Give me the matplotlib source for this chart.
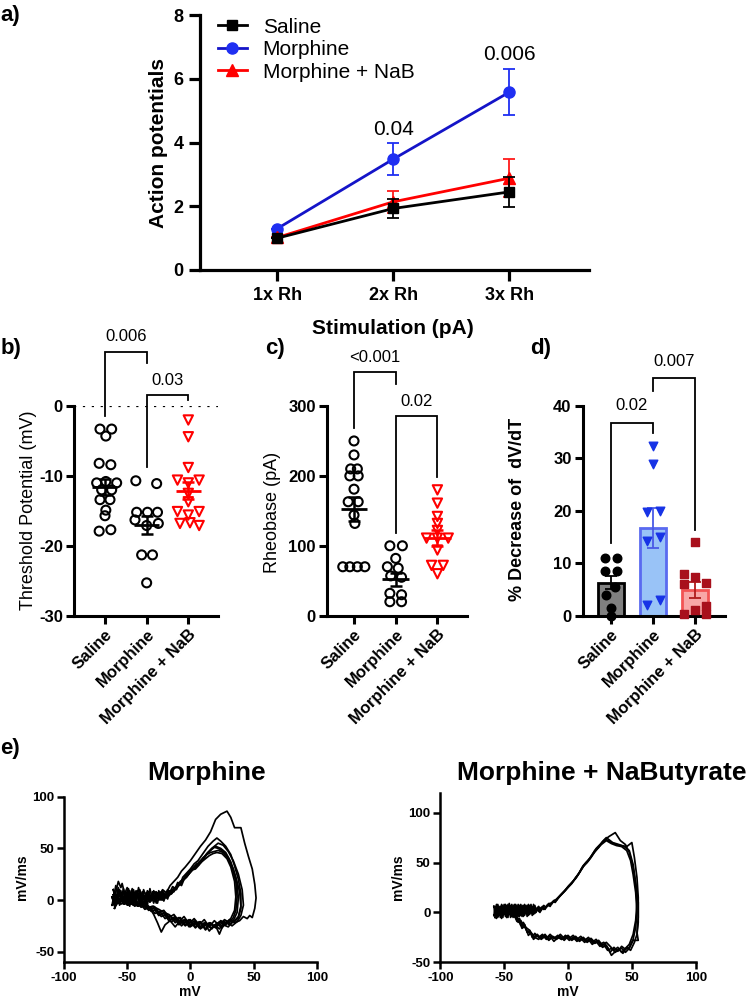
import matplotlib
matplotlib.use('Agg')
import matplotlib.pyplot as plt
import numpy as np
from matplotlib.lines import Line2D

plt.rcParams['font.family'] = ['Liberation Sans', 'DejaVu Sans']
plt.rcParams['axes.unicode_minus'] = False

# ---------------- data ----------------
groups = ['Saline', 'Morphine', 'Morphine + NaB']

# panel a
stim_labels = ['1x Rh', '2x Rh', '3x Rh']
ap_saline = [1.0, 1.93, 2.45]
ap_saline_sem = [0.0, 0.30, 0.46]
ap_morphine = [1.3, 3.48, 5.58]
ap_morphine_sem = [0.0, 0.49, 0.73]
ap_nab = [1.02, 2.14, 2.88]
ap_nab_sem = [0.0, 0.35, 0.60]
ap_pvals = ['0.04', '0.006']
ap_pval_y = [4.42, 6.76]

# panel b: threshold potential (mV)
thr_saline = [-3.3, -3.3, -4.3, -8.2, -8.4, -11.0, -10.8, -11.0, -12.0, -12.0,
              -13.4, -13.4, -14.9, -15.7, -17.9, -17.7]
thr_morphine = [-10.7, -11.1, -15.2, -15.2, -15.2, -16.3, -16.8, -17.1, -21.3, -21.3, -25.3]
thr_nab = [-2.0, -4.4, -8.8, -10.6, -10.6, -11.0, -12.5, -13.7, -15.1, -15.1,
           -15.6, -16.8, -17.1, -16.7]
thr_mean = [-11.6, -17.05, -12.1]
thr_sem = [1.2, 1.25, 1.2]

# panel c: rheobase (pA)
rheo_saline = [250, 230, 210, 210, 200, 200, 181, 163, 163, 144, 132, 70, 70, 70, 70]
rheo_morphine = [100, 100, 82, 70, 68, 57, 55, 32, 30, 20, 20]
rheo_nab = [180, 161, 142, 132, 122, 111, 111, 111, 94, 72, 72, 60]
rheo_mean = [153, 52, 111]
rheo_sem = [17, 9, 11.5]

# panel d: % decrease of dV/dT
dvdt_saline = [11.0, 11.0, 8.6, 8.6, 5.5, 4.0, 1.5, 0.0]
dvdt_morphine = [32.4, 28.9, 19.8, 20.0, 14.3, 15.1, 2.0, 2.9]
dvdt_nab = [14.1, 8.0, 7.3, 6.2, 6.0, 1.8, 1.1, 0.3, 0.3]
dvdt_mean = [6.3, 16.7, 4.95]
dvdt_sem = [1.3, 3.8, 1.55]

# panel e: phase plots (mV, mV/ms)
morph_trace_1 = [(-61,-2),(-59,8),(-57,18),(-55,12),(-54,16),(-52,6),(-50,12),(-48,3),(-46,11),(-44,2),(-42,9),(-40,0),(-38,8),(-36,1),(-34,9),(-31,2),(-28,8),(-25,3),(-22,10),(-19,7),(-16,14),(-13,18),(-10,22),(-7,28),(-4,32),(0,38),(4,45),(8,52),(12,58),(16,66),(20,78),(24,83),(29,86),(32,80),(35,70),(40,70),(43,55),(46,42),(49,30),(51,15),(52,2),(51,-8),(49,-17),(47,-15),(45,-18),(42,-16),(39,-20),(35,-22),(31,-20),(27,-24),(23,-21),(19,-26),(15,-22),(11,-25),(7,-21),(3,-24),(-1,-19),(-5,-22),(-9,-17),(-13,-19),(-17,-14),(-21,-12),(-25,-9),(-30,-6),(-35,-8),(-40,-3),(-45,-5),(-50,-1),(-55,-4),(-59,0),(-61,-2)]
morph_trace_2 = [(-62,3),(-60,-6),(-58,5),(-56,-3),(-54,7),(-52,-2),(-50,9),(-48,0),(-46,6),(-44,-3),(-42,8),(-40,-1),(-38,7),(-36,0),(-34,6),(-32,-2),(-30,8),(-28,1),(-26,7),(-24,2),(-22,9),(-20,4),(-18,10),(-16,8),(-14,13),(-12,11),(-10,17),(-8,15),(-6,22),(-3,26),(0,30),(3,35),(6,38),(10,45),(14,52),(18,57),(21,60),(24,57),(28,52),(32,44),(35,33),(38,20),(40,6),(40,-8),(38,-17),(35,-21),(31,-19),(28,-24),(24,-21),(20,-27),(16,-22),(12,-28),(8,-21),(4,-26),(0,-19),(-4,-24),(-8,-17),(-12,-22),(-16,-15),(-20,-18),(-24,-11),(-28,-13),(-32,-7),(-36,-9),(-40,-3),(-44,-6),(-48,-1),(-52,-4),(-56,1),(-60,-3),(-62,3)]
morph_trace_3 = [(-61,5),(-59,-4),(-57,9),(-55,-1),(-53,11),(-51,2),(-49,8),(-47,-2),(-45,10),(-43,1),(-41,6),(-39,-3),(-37,10),(-35,3),(-33,7),(-31,-1),(-29,9),(-27,2),(-25,6),(-23,0),(-21,7),(-19,3),(-17,9),(-15,6),(-13,12),(-11,10),(-9,16),(-7,14),(-5,20),(-2,24),(1,30),(4,32),(7,37),(10,40),(13,45),(16,48),(19,51),(22,50),(26,47),(30,41),(33,32),(36,18),(37,3),(36,-10),(34,-17),(31,-22),(27,-19),(23,-25),(19,-20),(15,-26),(11,-19),(7,-24),(3,-18),(-1,-23),(-5,-16),(-9,-21),(-13,-14),(-17,-17),(-21,-10),(-25,-12),(-29,-6),(-33,-8),(-37,-2),(-41,-5),(-45,0),(-49,-3),(-53,2),(-57,-2),(-61,5)]
morph_trace_4 = [(-60,-8),(-58,4),(-56,-5),(-54,6),(-52,-4),(-50,5),(-48,-6),(-46,8),(-44,-2),(-42,5),(-40,-4),(-38,6),(-36,-3),(-34,4),(-32,-2),(-30,6),(-28,-1),(-26,5),(-24,0),(-22,6),(-20,2),(-18,8),(-15,6),(-12,10),(-9,14),(-6,19),(-3,22),(0,27),(3,31),(6,34),(9,37),(12,40),(15,43),(18,45),(21,46),(25,45),(29,40),(32,32),(35,18),(36,3),(35,-10),(32,-18),(28,-22),(24,-20),(20,-26),(16,-23),(12,-29),(8,-22),(4,-27),(0,-21),(-4,-25),(-8,-20),(-12,-26),(-16,-20),(-20,-24),(-23,-31),(-26,-22),(-29,-14),(-33,-6),(-37,-2),(-42,-4),(-47,0),(-52,-3),(-56,1),(-60,-8)]
morph_trace_5 = [(-61,10),(-59,0),(-57,12),(-55,2),(-53,8),(-51,-3),(-49,11),(-47,1),(-45,7),(-43,-2),(-41,12),(-39,2),(-37,5),(-35,-4),(-33,8),(-31,0),(-29,5),(-27,-3),(-25,9),(-23,1),(-21,5),(-19,2),(-17,7),(-14,10),(-11,13),(-8,18),(-5,21),(-2,25),(1,29),(4,30),(7,34),(10,39),(14,46),(18,51),(22,55),(26,53),(30,47),(34,38),(38,25),(41,10),(42,-5),(40,-15),(37,-21),(33,-25),(29,-21),(25,-27),(21,-22),(17,-28),(13,-23),(9,-27),(5,-22),(1,-25),(-3,-20),(-7,-25),(-11,-18),(-15,-21),(-19,-14),(-23,-16),(-27,-9),(-31,-11),(-35,-5),(-39,-7),(-43,-1),(-47,-4),(-51,1),(-55,-2),(-59,3),(-61,10)]
morph_trace_6 = [(-62,-5),(-60,7),(-58,-2),(-56,10),(-54,-1),(-52,4),(-50,-5),(-48,9),(-46,-1),(-44,4),(-42,-6),(-40,10),(-38,0),(-36,4),(-34,-5),(-32,11),(-30,0),(-28,4),(-26,-3),(-24,8),(-22,0),(-20,5),(-18,1),(-16,9),(-13,8),(-10,15),(-7,17),(-4,23),(-1,27),(2,31),(5,35),(8,36),(11,41),(14,46),(17,50),(20,52),(24,50),(28,46),(32,37),(36,22),(39,8),(40,-6),(38,-16),(35,-20),(31,-24),(27,-21),(23,-28),(19,-24),(15,-30),(11,-22),(7,-27),(3,-20),(-1,-26),(-5,-19),(-9,-24),(-13,-17),(-17,-20),(-21,-13),(-25,-15),(-29,-8),(-33,-10),(-37,-4),(-41,-6),(-45,-1),(-49,-5),(-53,2),(-57,-3),(-62,-5)]
morph_trace_7 = [(-61,0),(-59,14),(-57,3),(-55,9),(-53,-4),(-51,7),(-49,-1),(-47,5),(-45,-5),(-43,9),(-41,0),(-39,4),(-37,-4),(-35,7),(-33,-1),(-31,5),(-29,-3),(-27,8),(-25,0),(-23,6),(-21,-1),(-19,6),(-17,4),(-14,8),(-11,12),(-8,16),(-5,20),(-2,24),(1,28),(4,33),(7,36),(10,41),(13,44),(16,46),(19,47),(22,48),(26,46),(30,40),(34,30),(37,16),(38,2),(37,-12),(34,-20),(30,-26),(26,-24),(23,-33),(20,-25),(16,-27),(12,-22),(8,-28),(4,-21),(0,-26),(-4,-19),(-8,-23),(-12,-16),(-16,-19),(-20,-12),(-24,-14),(-28,-7),(-32,-9),(-36,-3),(-40,-5),(-44,0),(-48,-4),(-52,3),(-56,-1),(-61,0)]

nab_trace_1 = [(-57,-5),(-56,7),(-55,-4),(-54,6),(-53,-5),(-52,8),(-51,-3),(-50,5),(-49,-4),(-48,7),(-47,-3),(-46,6),(-45,-5),(-44,8),(-43,-2),(-42,6),(-41,-4),(-40,7),(-39,-2),(-38,5),(-37,-3),(-36,7),(-35,-2),(-34,6),(-33,-1),(-32,7),(-31,-2),(-30,5),(-29,0),(-28,6),(-27,-1),(-26,7),(-25,0),(-24,5),(-22,2),(-20,6),(-18,3),(-16,8),(-14,6),(-12,11),(-10,10),(-8,14),(-5,18),(-2,22),(1,27),(4,31),(7,36),(10,42),(13,48),(16,52),(19,58),(22,64),(25,68),(28,72),(32,76),(37,80),(41,72),(45,68),(48,60),(51,45),(53,28),(54,10),(53,-8),(51,-22),(48,-32),(45,-36),(42,-40),(39,-35),(36,-38),(33,-34),(30,-30),(27,-33),(24,-28),(21,-30),(18,-26),(15,-29),(12,-25),(9,-28),(6,-24),(3,-27),(0,-23),(-3,-26),(-6,-22),(-9,-26),(-12,-24),(-15,-28),(-18,-24),(-21,-27),(-24,-22),(-27,-25),(-30,-18),(-33,-15),(-35,-10),(-37,-13),(-39,-6),(-42,-3),(-46,-1),(-50,0),(-57,-5)]
nab_trace_2 = [(-58,6),(-57,-4),(-56,8),(-55,-5),(-54,5),(-53,-3),(-52,7),(-51,-5),(-50,8),(-49,-2),(-48,6),(-47,-5),(-46,9),(-45,-3),(-44,5),(-43,-5),(-42,8),(-41,-2),(-40,6),(-39,-4),(-38,7),(-37,-2),(-36,5),(-35,-4),(-34,8),(-33,-1),(-32,5),(-31,-3),(-30,7),(-29,-1),(-28,5),(-27,-2),(-26,6),(-25,1),(-23,6),(-21,2),(-19,7),(-17,5),(-15,9),(-13,8),(-11,12),(-9,13),(-6,17),(-3,21),(0,26),(3,30),(6,34),(9,40),(12,47),(15,51),(18,56),(21,62),(24,66),(27,70),(30,73),(34,70),(38,68),(42,67),(46,66),(50,70),(52,55),(54,35),(55,15),(55,-5),(54,-20),(55,-28),(51,-28),(48,-36),(45,-40),(42,-36),(38,-38),(34,-43),(31,-35),(28,-30),(25,-32),(22,-27),(19,-30),(16,-25),(13,-28),(10,-24),(7,-27),(4,-23),(1,-26),(-2,-23),(-5,-27),(-8,-23),(-11,-26),(-14,-22),(-17,-26),(-20,-23),(-23,-27),(-26,-25),(-29,-20),(-31,-23),(-33,-16),(-35,-13),(-37,-8),(-39,-10),(-41,-5),(-44,-2),(-48,0),(-58,6)]
nab_trace_3 = [(-58,-3),(-57,5),(-56,-6),(-55,8),(-54,-2),(-53,5),(-52,-6),(-51,6),(-50,-2),(-49,8),(-48,-5),(-47,5),(-46,-2),(-45,7),(-44,-4),(-43,6),(-42,-1),(-41,8),(-40,-3),(-39,5),(-38,-4),(-37,8),(-36,-1),(-35,5),(-34,-3),(-33,7),(-32,-1),(-31,6),(-30,-2),(-29,8),(-28,0),(-27,5),(-26,-1),(-24,4),(-22,0),(-20,5),(-18,4),(-16,7),(-14,9),(-12,10),(-10,12),(-7,16),(-4,20),(-1,24),(2,28),(5,33),(8,38),(11,45),(14,50),(17,54),(20,59),(23,64),(26,68),(30,72),(34,69),(38,67),(42,66),(46,62),(49,52),(51,38),(53,20),(54,0),(53,-15),(51,-27),(48,-35),(45,-37),(42,-34),(39,-39),(36,-35),(33,-40),(30,-33),(27,-35),(24,-29),(21,-31),(18,-27),(15,-30),(12,-26),(9,-29),(6,-25),(3,-28),(0,-24),(-3,-28),(-6,-24),(-9,-27),(-12,-25),(-15,-27),(-18,-22),(-21,-26),(-24,-23),(-27,-27),(-29,-21),(-32,-19),(-34,-14),(-36,-16),(-38,-9),(-40,-6),(-43,-3),(-47,1),(-58,-3)]
nab_trace_4 = [(-57,2),(-56,-5),(-55,7),(-54,-2),(-53,6),(-52,-4),(-51,7),(-50,-2),(-49,5),(-48,-5),(-47,8),(-46,0),(-45,5),(-44,-4),(-43,7),(-42,-3),(-41,5),(-40,-5),(-39,8),(-38,0),(-37,5),(-36,-4),(-35,7),(-34,-2),(-33,5),(-32,-4),(-31,8),(-30,0),(-29,5),(-28,-3),(-27,8),(-26,0),(-25,4),(-23,1),(-21,5),(-19,3),(-17,6),(-15,7),(-13,9),(-11,11),(-9,12),(-6,17),(-3,21),(0,25),(3,29),(6,35),(9,40),(12,46),(15,50),(18,55),(21,61),(24,65),(27,71),(30,75),(35,70),(40,68),(44,66),(48,62),(51,48),(53,30),(55,10),(55,-10),(54,-22),(52,-30),(49,-38),(46,-35),(43,-41),(40,-37),(37,-40),(34,-36),(31,-38),(28,-32),(25,-34),(22,-29),(19,-32),(16,-27),(13,-30),(10,-26),(7,-29),(4,-25),(1,-28),(-2,-24),(-5,-27),(-8,-25),(-11,-29),(-14,-24),(-17,-27),(-20,-22),(-23,-25),(-26,-21),(-28,-25),(-30,-18),(-32,-20),(-34,-12),(-36,-14),(-38,-6),(-40,-9),(-42,-3),(-45,-1),(-49,0),(-57,2)]

morph_traces = [morph_trace_1, morph_trace_2, morph_trace_3, morph_trace_4,
                morph_trace_5, morph_trace_6, morph_trace_7]
nab_traces = [nab_trace_1, nab_trace_2, nab_trace_3, nab_trace_4]

# ---------------- layout helpers ----------------
W, H = 751, 1007
fig = plt.figure(figsize=(W / 100, H / 100), dpi=100)


def add_ax(l, t, r, b):
    return fig.add_axes([l / W, 1 - b / H, (r - l) / W, (b - t) / H])


def ftext(x, y, s, **kw):
    fig.text(x / W, 1 - y / H, s, **kw)


def style(ax, lw=2.0, tl=6, fs=12):
    for s in ['top', 'right']:
        ax.spines[s].set_visible(False)
    for s in ['left', 'bottom']:
        ax.spines[s].set_linewidth(lw)
    ax.tick_params(width=lw, length=tl, labelsize=fs, pad=2)
    plt.setp(ax.get_xticklabels(), fontweight='bold')
    plt.setp(ax.get_yticklabels(), fontweight='bold')


def bracket(ax, x1, x2, y1, y2, top, label, ly, fs=12):
    ax.plot([x1, x1, x2, x2], [y1, top, top, y2], color='black', lw=1.3,
            clip_on=False, solid_joinstyle='miter')
    ax.text((x1 + x2) / 2, ly, label, ha='center', va='center', fontsize=fs,
            clip_on=False)


# ---------------- panel a ----------------
axa = add_ax(200, 15, 589, 270)
xs = np.arange(len(stim_labels))
blue_line, blue_mk = '#1414c8', '#1f2ff2'
axa.errorbar(xs, ap_morphine, yerr=ap_morphine_sem, color=blue_line, lw=2,
             marker='o', ms=8, mfc=blue_mk, mec=blue_mk, ecolor=blue_mk,
             elinewidth=1.3, capsize=4, capthick=1.3, zorder=3)
axa.errorbar(xs, ap_nab, yerr=ap_nab_sem, color='#ff0000', lw=2,
             marker='^', ms=8, ecolor='#ff1a1a', elinewidth=1.3, capsize=4,
             capthick=1.3, zorder=4)
axa.errorbar(xs, ap_saline, yerr=ap_saline_sem, color='black', lw=2,
             marker='s', ms=7.5, elinewidth=1.3, capsize=4, capthick=1.3, zorder=5)
axa.set_xlim(-0.667, 2.687)
axa.set_ylim(0, 8)
axa.set_yticks([0, 2, 4, 6, 8])
axa.set_xticks(xs)
axa.set_xticklabels(stim_labels)
style(axa, lw=2.3, tl=8, fs=13)
axa.tick_params(pad=4)
for i, (p, y) in enumerate(zip(ap_pvals, ap_pval_y)):
    axa.text(i + 1, y, p, ha='center', va='center', fontsize=15)
handles = [Line2D([], [], color='black', marker='s', ms=7.5, lw=2),
           Line2D([], [], color=blue_line, marker='o', ms=8, mfc=blue_mk, mec=blue_mk, lw=2),
           Line2D([], [], color='#ff0000', marker='^', ms=8, lw=2)]
axa.legend(handles, ['Saline', 'Morphine', 'Morphine + NaB'], loc='upper left',
           bbox_to_anchor=(0.046, 0.99), frameon=False, fontsize=15,
           handlelength=1.4, handletextpad=0.75, labelspacing=0.17,
           borderaxespad=0, borderpad=0)
ftext(158, 143.5, 'Action potentials', rotation=90, ha='center', va='center',
      fontsize=15, fontweight='bold')
ftext(393, 328, 'Stimulation (pA)', ha='center', va='center', fontsize=15,
      fontweight='bold')

# ---------------- panel b ----------------
axb = add_ax(74, 406, 218.3, 615.7)
b_off_s = [-0.12, 0.16, 0.02, -0.14, 0.14, -0.2, 0.02, 0.28, -0.08, 0.16, -0.12, 0.12, 0.02, 0.0, -0.14, 0.14]
b_off_m = [-0.26, 0.24, -0.24, 0.02, 0.26, -0.28, 0.28, 0.0, -0.12, 0.14, 0.0]
b_off_n = [0.0, 0.0, 0.0, -0.26, 0.26, 0.0, 0.0, 0.0, -0.26, 0.26, 0.0, -0.2, 0.26, 0.04]
axb.axhline(0, color='black', ls=(0, (1, 3)), lw=1.6)
axb.scatter(np.array(b_off_s) + 0, thr_saline, s=42, facecolors='none',
            edgecolors='black', linewidths=1.5, zorder=3, clip_on=False)
axb.scatter(np.array(b_off_m) + 1, thr_morphine, s=42, facecolors='none',
            edgecolors='black', linewidths=1.5, zorder=3, clip_on=False)
axb.scatter(np.array(b_off_n) + 2, thr_nab, s=45, marker='v', facecolors='none',
            edgecolors='#ff0000', linewidths=1.5, zorder=3, clip_on=False)
for i, c in enumerate(['black', 'black', '#ff0000']):
    axb.hlines(thr_mean[i], i - 0.3, i + 0.3, color=c, lw=2, zorder=4)
    axb.errorbar(i, thr_mean[i], yerr=thr_sem[i], fmt='none', ecolor=c,
                 elinewidth=1.8, capsize=4, capthick=1.8, zorder=4)
axb.set_xlim(-0.744, 2.72)
axb.set_ylim(-30, 0)
axb.set_yticks([0, -10, -20, -30])
axb.set_xticks([0, 1, 2])
axb.set_xticklabels(groups, rotation=45, ha='right', rotation_mode='anchor')
style(axb, lw=2.2, tl=6, fs=12)
bracket(axb, 0, 1, -1.5, 6.1, 7.76, '0.006', 9.9)
bracket(axb, 1, 2, -8.7, 0.9, 1.57, '0.03', 3.7)
ftext(29, 510, 'Threshold Potential (mV)', rotation=90, ha='center',
      va='center', fontsize=13)

# ---------------- panel c ----------------
axc = add_ax(327, 406, 467, 615.7)
c_off_s = [0.0, 0.0, -0.08, 0.08, -0.1, 0.1, 0.0, -0.14, 0.1, 0.0, 0.02, -0.27, -0.1, 0.08, 0.26]
c_off_m = [-0.14, 0.16, 0.0, -0.2, 0.06, -0.12, 0.14, -0.14, 0.14, -0.14, 0.14]
c_off_n = [0.0, 0.0, 0.0, 0.0, 0.0, -0.26, 0.0, 0.26, 0.0, -0.14, 0.14, 0.0]
axc.scatter(np.array(c_off_s) + 0, rheo_saline, s=42, facecolors='none',
            edgecolors='black', linewidths=1.5, zorder=3, clip_on=False)
axc.scatter(np.array(c_off_m) + 1, rheo_morphine, s=42, facecolors='none',
            edgecolors='black', linewidths=1.5, zorder=3, clip_on=False)
axc.scatter(np.array(c_off_n) + 2, rheo_nab, s=45, marker='v', facecolors='none',
            edgecolors='#ff0000', linewidths=1.5, zorder=3, clip_on=False)
for i, c in enumerate(['black', 'black', '#ff0000']):
    axc.hlines(rheo_mean[i], i - 0.32, i + 0.32, color=c, lw=2, zorder=4)
    axc.errorbar(i, rheo_mean[i], yerr=rheo_sem[i], fmt='none', ecolor=c,
                 elinewidth=1.8, capsize=4, capthick=1.8, zorder=4)
axc.set_xlim(-0.648, 2.71)
axc.set_ylim(0, 300)
axc.set_yticks([0, 100, 200, 300])
axc.set_xticks([0, 1, 2])
axc.set_xticklabels(groups, rotation=45, ha='right', rotation_mode='anchor')
style(axc, lw=2.2, tl=6, fs=12)
bracket(axc, 0, 1, 268, 331, 349, '<0.001', 370)
bracket(axc, 1, 2, 119, 199, 286, '0.02', 307)
ftext(272.5, 512, 'Rheobase (pA)', rotation=90, ha='center', va='center',
      fontsize=13)

# ---------------- panel d ----------------
axd = add_ax(582.7, 406, 725, 615.7)
bar_fill = ['#808080', '#99c3f7', '#f8a7a7']
bar_edge = ['#000000', '#5a6af0', '#f25454']
err_col = ['#000000', '#4a5ae6', '#b01c1c']
pt_col = ['#000000', '#1733e6', '#a8101c']
axd.bar([0, 1, 2], dvdt_mean, width=0.62, color=bar_fill, edgecolor=bar_edge,
        linewidth=2.0, zorder=2)
for i in range(3):
    axd.errorbar(i, dvdt_mean[i], yerr=dvdt_sem[i], fmt='none', ecolor=err_col[i],
                 elinewidth=1.3, capsize=4, capthick=1.3, zorder=3)
d_off_s = [-0.14, 0.16, -0.14, 0.16, 0.1, -0.1, 0.0, 0.0]
d_off_m = [0.0, 0.0, -0.14, 0.17, -0.14, 0.17, -0.14, 0.17]
d_off_n = [0.0, -0.26, 0.0, 0.26, -0.26, 0.26, 0.0, -0.26, 0.26]
axd.scatter(np.array(d_off_s) + 0, dvdt_saline, s=38, marker='o', color=pt_col[0],
            zorder=4, clip_on=False)
axd.scatter(np.array(d_off_m) + 1, dvdt_morphine, s=38, marker='v', color=pt_col[1],
            zorder=4, clip_on=False)
axd.scatter(np.array(d_off_n) + 2, dvdt_nab, s=36, marker='s', color=pt_col[2],
            zorder=4, clip_on=False)
axd.set_xlim(-0.664, 2.71)
axd.set_ylim(0, 40)
axd.set_yticks([0, 10, 20, 30, 40])
axd.set_xticks([0, 1, 2])
axd.set_xticklabels(groups, rotation=45, ha='right', rotation_mode='anchor')
style(axd, lw=2.2, tl=6, fs=12)
bracket(axd, 0, 1, 13.8, 34.8, 36.8, '0.02', 40.0)
bracket(axd, 1, 2, 42.9, 16.3, 45.4, '0.007', 48.5)
ftext(517, 509, '% Decrease of  dV/dT', rotation=90, ha='center', va='center',
      fontsize=13, fontweight='bold')

# ---------------- panel e ----------------
axe1 = add_ax(64, 796.7, 316.7, 962)
for tr in morph_traces:
    arr = np.array(tr)
    axe1.plot(arr[:, 0], arr[:, 1], color='black', lw=1.25)
axe1.set_xlim(-100, 100)
axe1.set_ylim(-60, 100)
axe1.set_xticks([-100, -50, 0, 50, 100])
axe1.set_yticks([-50, 0, 50, 100])
style(axe1, lw=1.8, tl=5, fs=9.5)

axe2 = add_ax(440.3, 792.7, 695.7, 962.3)
for tr in nab_traces:
    arr = np.array(tr)
    axe2.plot(arr[:, 0], arr[:, 1], color='black', lw=1.25)
axe2.set_xlim(-100, 100)
axe2.set_ylim(-50, 120)
axe2.set_xticks([-100, -50, 0, 50, 100])
axe2.set_yticks([-50, 0, 50, 100])
style(axe2, lw=1.8, tl=5, fs=9.5)

ftext(207, 773, 'Morphine', ha='center', va='center', fontsize=19, fontweight='bold')
ftext(602, 773, 'Morphine + NaButyrate', ha='center', va='center', fontsize=19,
      fontweight='bold')
ftext(22, 877, 'mV/ms', rotation=90, ha='center', va='center', fontsize=10,
      fontweight='bold')
ftext(398, 877, 'mV/ms', rotation=90, ha='center', va='center', fontsize=10,
      fontweight='bold')
ftext(190, 992, 'mV', ha='center', va='center', fontsize=10, fontweight='bold')
ftext(568, 992, 'mV', ha='center', va='center', fontsize=10, fontweight='bold')

# ---------------- panel letters ----------------
for (x, y, s) in [(0, 5, 'a)'), (1, 338, 'b)'), (265, 338, 'c)'), (530, 338, 'd)'),
                  (0, 738, 'e)')]:
    ftext(x, y, s, ha='left', va='top', fontsize=16, fontweight='bold')

fig.savefig('out.png', dpi=100)
